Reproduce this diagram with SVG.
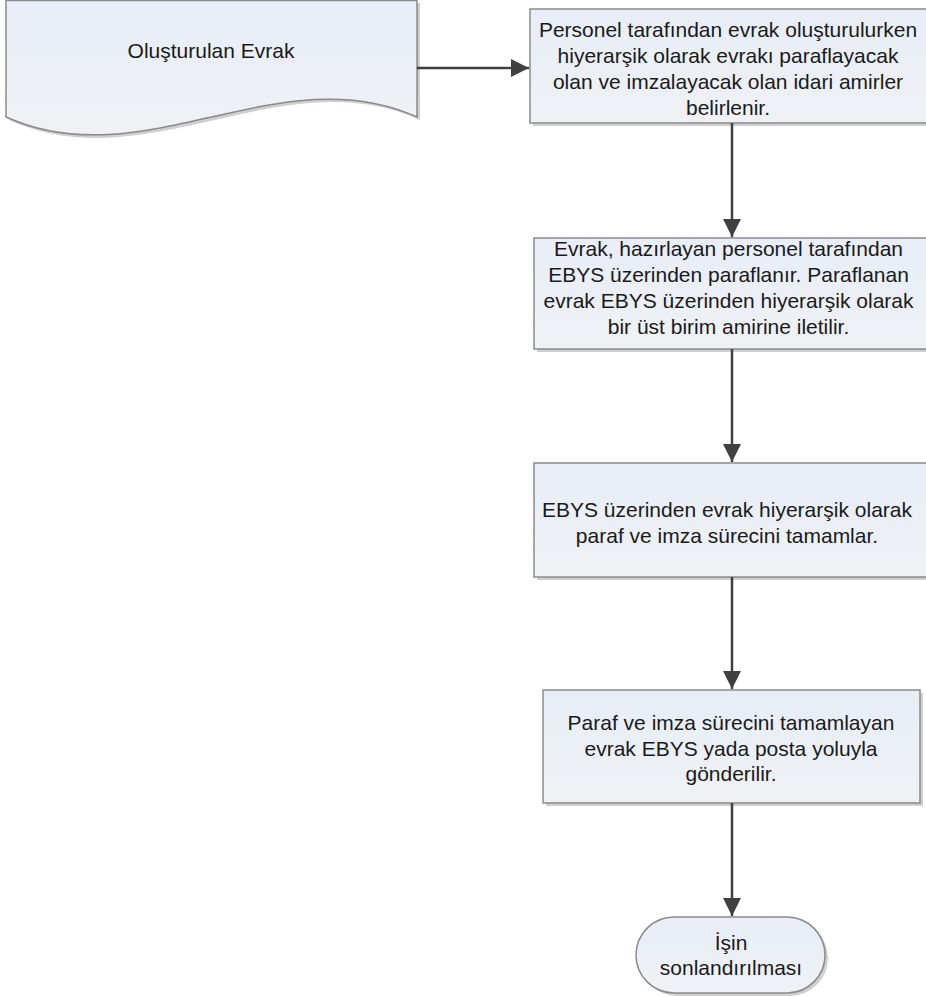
<svg xmlns="http://www.w3.org/2000/svg" width="926" height="997" viewBox="0 0 926 997">
<style>
.box{fill:url(#g);stroke:#8a8a8a;stroke-width:1.5}
.sh{fill:#cfcfcf;stroke:none}
.t{font-family:"Liberation Sans",Arial,sans-serif;font-size:21px;fill:#1a1a1a;text-anchor:middle}
.c{stroke:#404040;stroke-width:2.5;fill:none}
</style>
<defs>
<linearGradient id="g" x1="0" y1="0" x2="0" y2="1">
<stop offset="0" stop-color="#e8edf7"/>
<stop offset="1" stop-color="#eff1f4"/>
</linearGradient>
<marker id="ah" viewBox="0 0 18 18" refX="18" refY="9" markerWidth="18" markerHeight="18" markerUnits="userSpaceOnUse" orient="auto">
<path d="M0,0 L18,9 L0,18 Z" fill="#404040"/>
</marker>
</defs>
<g id="n0">
<path class="sh" d="M9,3 H420 V120 C283,58 146,182 9,120 Z"/>
<path class="box" d="M6,0.5 H417 V117 C280,55 143,179 6,117 Z"/>
<text class="t" x="211" y="58">Oluşturulan Evrak</text>
</g>
<g id="n1">
<rect class="sh" x="533" y="12" width="400" height="114"/>
<rect class="box" x="530" y="9" width="400" height="114"/>
<text class="t" x="728" y="37">Personel tarafından evrak oluşturulurken</text>
<text class="t" x="728" y="63">hiyerarşik olarak evrakı paraflayacak</text>
<text class="t" x="728" y="89">olan ve imzalayacak olan idari amirler</text>
<text class="t" x="728" y="115">belirlenir.</text>
</g>
<g id="n2">
<rect class="sh" x="537" y="241" width="400" height="111"/>
<rect class="box" x="534" y="238" width="400" height="111"/>
<text class="t" x="728.5" y="256">Evrak, hazırlayan personel tarafından</text>
<text class="t" x="728.5" y="282">EBYS üzerinden paraflanır. Paraflanan</text>
<text class="t" x="728.5" y="308">evrak EBYS üzerinden hiyerarşik olarak</text>
<text class="t" x="728.5" y="334">bir üst birim amirine iletilir.</text>
</g>
<g id="n3">
<rect class="sh" x="537" y="466" width="400" height="114"/>
<rect class="box" x="534" y="463" width="400" height="114"/>
<text class="t" x="727" y="517">EBYS üzerinden evrak hiyerarşik olarak</text>
<text class="t" x="727" y="543">paraf ve imza sürecini tamamlar.</text>
</g>
<g id="n4">
<rect class="sh" x="546" y="693" width="377" height="113"/>
<rect class="box" x="543" y="690" width="377" height="113"/>
<text class="t" x="731" y="730">Paraf ve imza sürecini tamamlayan</text>
<text class="t" x="731" y="756">evrak EBYS yada posta yoluyla</text>
<text class="t" x="731" y="781">gönderilir.</text>
</g>
<g id="n5">
<rect class="sh" x="639" y="920" width="189" height="76" rx="38" ry="38"/>
<rect class="box" x="636" y="917" width="189" height="76" rx="38" ry="38"/>
<text class="t" x="731" y="950">İşin</text>
<text class="t" x="731" y="975">sonlandırılması</text>
</g>
<g id="connectors">
<path class="c" d="M417,68 H529" marker-end="url(#ah)"/>
<path class="c" d="M732,123 V237" marker-end="url(#ah)"/>
<path class="c" d="M732,349 V462" marker-end="url(#ah)"/>
<path class="c" d="M732,577 V689" marker-end="url(#ah)"/>
<path class="c" d="M732,803 V916" marker-end="url(#ah)"/>
</g>
</svg>
